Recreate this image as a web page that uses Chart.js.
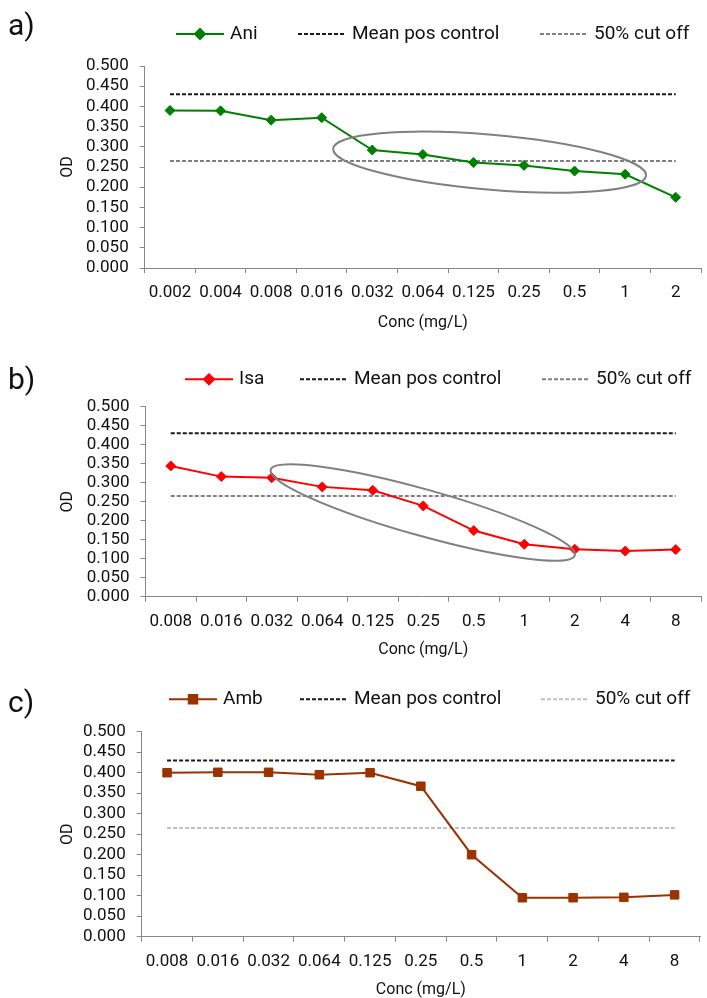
<!DOCTYPE html>
<html>
<head>
<meta charset="utf-8">
<script src="https://cdn.jsdelivr.net/npm/chart.js@4.4.1/dist/chart.umd.min.js"></script>
<style>
  body { margin: 0; background: #fff; }
  #page { position: relative; width: 707px; height: 998px; overflow: hidden; font-family: Roboto, sans-serif; }
  .panel { position: absolute; left: 0; }
  .tag { position: absolute; left: 8px; font-size: 30px; line-height: 30px; color: #111; }
</style>
</head>
<body>
<div id="page">
  <canvas id="chartA" class="panel" width="707" height="340" style="top:0px"></canvas>
  <canvas id="chartB" class="panel" width="707" height="340" style="top:330px"></canvas>
  <canvas id="chartC" class="panel" width="707" height="338" style="top:660px"></canvas>
  <div class="tag" style="top:10px">a)</div>
  <div class="tag" style="top:364px">b)</div>
  <div class="tag" style="top:687px">c)</div>
</div>
<script>
// concentrations (mg/L)
var concAni = ['0.002', '0.004', '0.008', '0.016', '0.032', '0.064', '0.125', '0.25', '0.5', '1', '2'];
var concIsaAmb = ['0.008', '0.016', '0.032', '0.064', '0.125', '0.25', '0.5', '1', '2', '4', '8'];

// OD readings
var aniOD = [0.390, 0.389, 0.366, 0.372, 0.292, 0.281, 0.261, 0.254, 0.240, 0.232, 0.175];
var isaOD = [0.344, 0.316, 0.313, 0.289, 0.280, 0.239, 0.174, 0.138, 0.125, 0.120, 0.124];
var ambOD = [0.400, 0.401, 0.401, 0.395, 0.400, 0.367, 0.200, 0.095, 0.095, 0.096, 0.102];

var meanPosControl = 0.430;
var cutOff50 = 0.265;

var FONT = 'Roboto';

// excel style legend: line sample with marker, then text
var legendPlugin = {
    id: 'excelLegend',
    afterDraw: function (chart, args, opts) {
        var ctx = chart.ctx;
        ctx.save();
        ctx.textBaseline = 'middle';
        ctx.textAlign = 'left';
        chart.data.datasets.forEach(function (ds, i) {
            var x = opts.x[i], y = opts.y;
            ctx.strokeStyle = ds.borderColor;
            ctx.lineWidth = ds.borderWidth;
            ctx.setLineDash(ds.borderDash || []);
            ctx.beginPath();
            ctx.moveTo(x, y);
            ctx.lineTo(x + 48, y);
            ctx.stroke();
            ctx.setLineDash([]);
            if (ds.pointRadius > 0) {
                ctx.fillStyle = ds.pointBackgroundColor;
                ctx.strokeStyle = ds.pointBorderColor;
                Chart.helpers.drawPoint(ctx, { pointStyle: ds.pointStyle, radius: ds.pointRadius, borderWidth: 1, rotation: 0 }, x + 24, y);
            }
            ctx.fillStyle = '#111';
            ctx.font = '19px ' + FONT;
            ctx.fillText(ds.label, x + 54, y);
        });
        ctx.restore();
    }
};

// grey ring drawn round part of the curve
var ringPlugin = {
    id: 'ringMark',
    afterDatasetsDraw: function (chart, args, opts) {
        if (!opts || !opts.ring) return;
        var r = opts.ring;
        var ctx = chart.ctx;
        var cx = chart.scales.x.getPixelForValue(r.index);
        var cy = chart.scales.y.getPixelForValue(r.value);
        ctx.save();
        ctx.strokeStyle = '#808080';
        ctx.lineWidth = 2;
        ctx.beginPath();
        ctx.ellipse(cx, cy, r.rx, r.ry, r.rot * Math.PI / 180, 0, 2 * Math.PI);
        ctx.stroke();
        ctx.restore();
    }
};

function makeChart(id, labels, series, lay) {
    var axisGrey = '#888888';
    return new Chart(document.getElementById(id).getContext('2d'), {
        type: 'line',
        data: {
            labels: labels,
            datasets: [{
                label: series.name,
                data: series.values,
                borderColor: series.color,
                backgroundColor: series.color,
                pointBackgroundColor: series.color,
                pointBorderColor: series.color,
                pointStyle: series.marker,
                pointRadius: series.radius,
                pointBorderWidth: 1,
                borderWidth: 2,
                tension: 0
            }, {
                label: 'Mean pos control',
                data: labels.map(function () { return meanPosControl; }),
                borderColor: '#1a1a1a',
                borderDash: [4, 2],
                borderWidth: 2,
                pointRadius: 0
            }, {
                label: '50% cut off',
                data: labels.map(function () { return cutOff50; }),
                borderColor: lay.cutColor,
                borderDash: [4, 2],
                borderWidth: 2,
                pointRadius: 0
            }]
        },
        options: {
            responsive: false,
            animation: false,
            layout: { padding: lay.pad },
            plugins: {
                legend: { display: false },
                tooltip: { enabled: false },
                excelLegend: { x: lay.legendX, y: lay.legendY },
                ringMark: { ring: lay.ring }
            },
            scales: {
                x: {
                    offset: true,
                    grid: { offset: true, drawOnChartArea: false, drawTicks: true, tickLength: 5, color: axisGrey },
                    border: { color: axisGrey, width: 1 },
                    ticks: { font: { family: FONT, size: 17 }, color: '#111', padding: 10, maxRotation: 0, autoSkip: false },
                    title: { display: true, text: 'Conc (mg/L)', font: { family: FONT, size: 16, lineHeight: 1.2 }, color: '#111', padding: 0 },
                    afterFit: function (s) { s.height = lay.xH; }
                },
                y: {
                    min: 0,
                    max: 0.5,
                    grid: { drawOnChartArea: false, drawTicks: true, tickLength: 5, color: axisGrey },
                    border: { color: axisGrey, width: 1 },
                    ticks: {
                        stepSize: 0.05,
                        autoSkip: false,
                        font: { family: FONT, size: 17, lineHeight: 1 },
                        color: '#111',
                        padding: 11,
                        callback: function (v) { return v.toFixed(3); }
                    },
                    title: { display: true, text: 'OD', font: { family: FONT, size: 16, lineHeight: 1.2 }, color: '#111', padding: 0 },
                    afterFit: function (s) { s.width = lay.yW; }
                }
            }
        },
        plugins: [legendPlugin, ringPlugin]
    });
}

makeChart('chartA', concAni,
    { name: 'Ani', values: aniOD, color: '#008000', marker: 'rectRot', radius: 5 },
    { pad: { left: 58, top: 66, right: 4.5, bottom: 7.4 }, yW: 86.7, xH: 64.6,
      legendX: [176, 298, 540], legendY: 34, cutColor: '#808080',
      ring: { index: 6.32, value: 0.262, rx: 157, ry: 27.5, rot: 4.9 } });

makeChart('chartB', concIsaAmb,
    { name: 'Isa', values: isaOD, color: '#ff0000', marker: 'rectRot', radius: 5 },
    { pad: { left: 58, top: 76.7, right: -3, bottom: 10.4 }, yW: 87.5, xH: 62.9,
      legendX: [185, 300, 542], legendY: 49.3, cutColor: '#808080',
      ring: { index: 4.99, value: 0.2216, rx: 158, ry: 23.2, rot: 15.7 } });

makeChart('chartC', concIsaAmb,
    { name: 'Amb', values: ambOD, color: '#993300', marker: 'rect', radius: 6 },
    { pad: { left: 58, top: 71.7, right: 1, bottom: -1.6 }, yW: 83.7, xH: 62.9,
      legendX: [169, 300, 541], legendY: 39.3, cutColor: '#c0c0c0',
      ring: null });
</script>
</body>
</html>
